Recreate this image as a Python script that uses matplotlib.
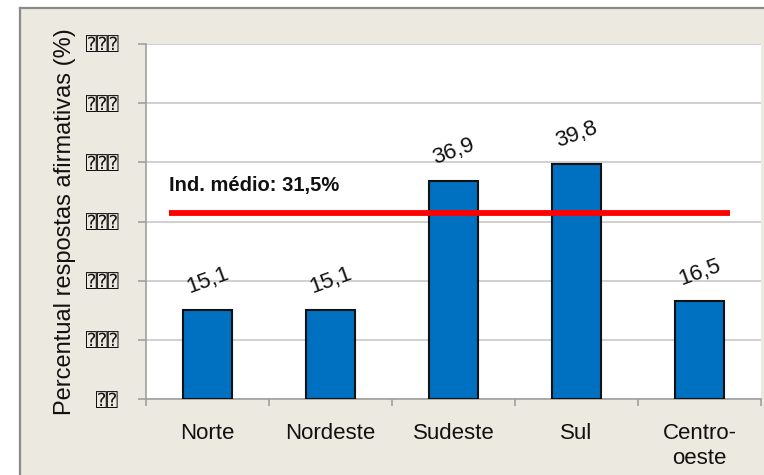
import matplotlib
matplotlib.use("Agg")
import matplotlib.pyplot as plt
from matplotlib.lines import Line2D
from matplotlib.patches import Rectangle

regions = ["Norte", "Nordeste", "Sudeste", "Sul", "Centro-\noeste"]
values = [15.1, 15.1, 36.9, 39.8, 16.5]
value_labels = ["15,1", "15,1", "36,9", "39,8", "16,5"]
average = 31.5
average_label = "Ind. médio: 31,5%"
y_ticks = [0, 10, 20, 30, 40, 50, 60]
y_tick_labels = ["\u2370\u2370", "\u2370\u2370\u2370", "\u2370\u2370\u2370", "\u2370\u2370\u2370",
                 "\u2370\u2370\u2370", "\u2370\u2370\u2370", "\u2370\u2370\u2370"]
y_label = "Percentual respostas afirmativas (%)"

plt.rcParams['font.family'] = ['Liberation Sans', 'DejaVu Sans', 'DejaVu Sans Mono']

W, H = 764, 475
fig = plt.figure(figsize=(W / 100, H / 100), dpi=100, facecolor="white")

bg = "#ECE9E0"
fig.patches.append(Rectangle((20 / W, 0), 1 - 20 / W, (H - 8) / H, transform=fig.transFigure,
                             facecolor=bg, edgecolor="none", zorder=-10))
fig.lines.append(Line2D([20 / W, 20 / W], [0, (H - 8) / H], transform=fig.transFigure,
                        color="#8a8a8a", lw=1.6, zorder=-9))
fig.lines.append(Line2D([20 / W, 1], [(H - 8) / H, (H - 8) / H], transform=fig.transFigure,
                        color="#8a8a8a", lw=1.6, zorder=-9))

ax = fig.add_axes([146 / W, (H - 399) / H, (761 - 146) / W, (399 - 44) / H])
ax.set_facecolor("white")

x = list(range(len(regions)))
ax.bar(x, values, width=0.4, color="#0070C0", edgecolor="#111111", linewidth=1.5, zorder=3)

for xi, v, lab in zip(x, values, value_labels):
    ax.annotate(lab, (xi, v), xytext=(0, 21), textcoords="offset points",
                ha="center", va="center", rotation=20, fontsize=16, color="#111111", zorder=5)

ax.plot([-0.31, 4.25], [average, average], color="#FF0000", lw=4.2, zorder=4, solid_capstyle="butt")
ax.text(-0.31, 35.2, average_label, fontsize=14.5, fontweight="bold", ha="left", va="baseline",
        color="#111111", zorder=5)

ax.set_xlim(-0.5, 4.5)
ax.set_ylim(0, 60)
ax.set_yticks(y_ticks)
ax.set_yticklabels(y_tick_labels, fontsize=13, color="#111111")
ax.yaxis.grid(True, color="#C4C4C4", lw=1.1, zorder=0)
ax.set_axisbelow(True)
ax.tick_params(axis="y", direction="out", length=6, color="#999999", width=1.1, pad=14)

ax.set_xticks(x)
ax.set_xticklabels(regions, fontsize=16, color="#111111", linespacing=1.25)
ax.tick_params(axis="x", which="major", length=0, pad=17)
ax.set_xticks([-0.5, 0.5, 1.5, 2.5, 3.5, 4.5], minor=True)
ax.tick_params(axis="x", which="minor", direction="out", length=5, color="#999999", width=1.1)

for s in ["top", "right"]:
    ax.spines[s].set_visible(False)
for s in ["left", "bottom"]:
    ax.spines[s].set_color("#A0A0A0")
    ax.spines[s].set_linewidth(1.2)

fig.text(65 / W, (H - 222) / H, y_label, rotation=90, fontsize=17, ha="center", va="center",
         color="#111111")

fig.savefig("out.png", dpi=100, facecolor="white")
